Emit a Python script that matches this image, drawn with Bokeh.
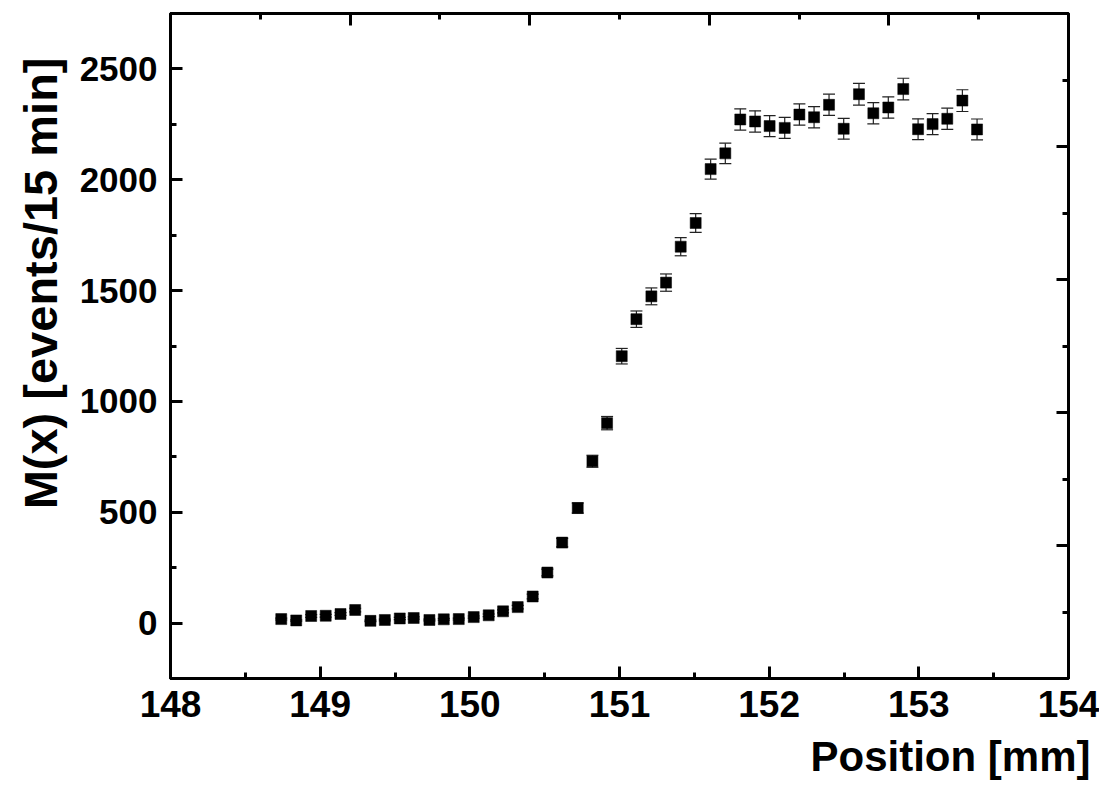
import numpy as np
from bokeh.plotting import figure
from bokeh.models import (Range1d, LinearAxis, FixedTicker, ColumnDataSource,
                          Whisker, TeeHead, Title)
from bokeh.embed import file_html
from bokeh.resources import INLINE

# ---- data ----
position_mm = [148.740, 148.840, 148.940, 149.037, 149.136, 149.234, 149.336, 149.432,
               149.532, 149.625, 149.730, 149.826, 149.926, 150.026, 150.126, 150.222,
               150.320, 150.420, 150.518, 150.617, 150.721, 150.819, 150.917, 151.015,
               151.113, 151.213, 151.311, 151.409, 151.509, 151.609, 151.707, 151.807,
               151.906, 152.003, 152.104, 152.202, 152.300, 152.400, 152.498, 152.600,
               152.696, 152.796, 152.896, 152.995, 153.092, 153.190, 153.291, 153.389]
counts = [18, 12, 32, 33, 41, 59, 10, 14, 21, 23, 14, 17, 18, 27, 35, 53,
          72, 120, 228, 363, 519, 730, 902, 1204, 1371, 1474, 1536, 1698, 1805, 2048,
          2119, 2272, 2263, 2242, 2234, 2294, 2282, 2338, 2230, 2386, 2300, 2326,
          2409, 2228, 2251, 2275, 2357, 2227]
errors = [4, 3, 6, 6, 6, 8, 3, 4, 5, 5, 4, 4, 4, 5, 6, 7,
          8, 11, 15, 19, 23, 27, 30, 35, 37, 38, 39, 41, 42, 45,
          46, 48, 48, 47, 47, 48, 48, 48, 47, 49, 48, 48,
          49, 47, 47, 48, 49, 47]
x_ticks = [148, 149, 150, 151, 152, 153, 154]
x_minor = [148.5, 149.5, 150.5, 151.5, 152.5, 153.5]
y_ticks = [0, 500, 1000, 1500, 2000, 2500]
y_minor = [-250, 250, 750, 1250, 1750, 2250, 2750]
frac_major = [0.2, 0.4, 0.6, 0.8]
frac_minor = [0.1, 0.3, 0.5, 0.7, 0.9]
x_title = "Position [mm]"
y_title = "M(x) [events/15 min]"

FONT = "Liberation Sans"

p = figure(width=1099, height=792, output_backend="svg", toolbar_location=None,
           x_range=Range1d(148, 154), y_range=Range1d(-250, 2750),
           min_border_left=170, min_border_right=31, min_border_top=13,
           min_border_bottom=114)
p.extra_x_ranges = {"top": Range1d(0, 1)}
p.extra_y_ranges = {"right": Range1d(0, 1)}
p.xgrid.visible = False
p.ygrid.visible = False
p.outline_line_color = "black"
p.outline_line_width = 3
p.background_fill_color = "white"
p.border_fill_color = "white"

def style_axis(ax, font_size):
    ax.axis_line_width = 3
    ax.axis_line_color = "black"
    ax.major_tick_in = 12
    ax.major_tick_out = 0
    ax.minor_tick_in = 6
    ax.minor_tick_out = 0
    ax.major_tick_line_width = 3
    ax.minor_tick_line_width = 3
    ax.major_label_text_font = FONT
    ax.major_label_text_font_style = "bold"
    ax.major_label_text_font_size = font_size
    ax.major_label_text_color = "black"

xa = p.xaxis[0]
xa.ticker = FixedTicker(ticks=x_ticks, minor_ticks=x_minor)
style_axis(xa, "37px")
xa.major_label_standoff = 12

ya = p.yaxis[0]
ya.ticker = FixedTicker(ticks=y_ticks, minor_ticks=y_minor)
style_axis(ya, "35px")
ya.major_label_standoff = 13

for name, loc in (("top", "above"), ("right", "right")):
    kw = {"x_range_name": name} if loc == "above" else {"y_range_name": name}
    ax = LinearAxis(ticker=FixedTicker(ticks=frac_major, minor_ticks=frac_minor), **kw)
    style_axis(ax, "1px")
    ax.major_label_text_color = None
    ax.major_label_standoff = 0
    ax.major_label_overrides = {t: "" for t in frac_major}
    p.add_layout(ax, loc)

y = np.array(counts, dtype=float)
e = np.array(errors, dtype=float)
src = ColumnDataSource(dict(x=position_mm, y=counts, upper=y + e, lower=y - e))

wh = Whisker(base="x", upper="upper", lower="lower", source=src, dimension="height",
             line_color="#222222", line_width=1.2,
             upper_head=TeeHead(size=12, line_width=1.2, line_color="#222222"),
             lower_head=TeeHead(size=12, line_width=1.2, line_color="#222222"))
p.add_layout(wh)

p.scatter("x", "y", source=src, marker="square", size=11, fill_color="black",
          line_color="black", line_width=0.5)

p.add_layout(Title(text=x_title, align="right", offset=-22, standoff=22,
                   text_font=FONT, text_font_style="bold", text_font_size="42px",
                   text_line_height=1.0, text_color="black"), "below")
p.add_layout(Title(text=y_title, align="right", offset=44, standoff=20,
                   text_font=FONT, text_font_style="bold", text_font_size="47px",
                   text_line_height=1.0, text_color="black"), "left")

open("out.html", "w").write(file_html(p, INLINE))
